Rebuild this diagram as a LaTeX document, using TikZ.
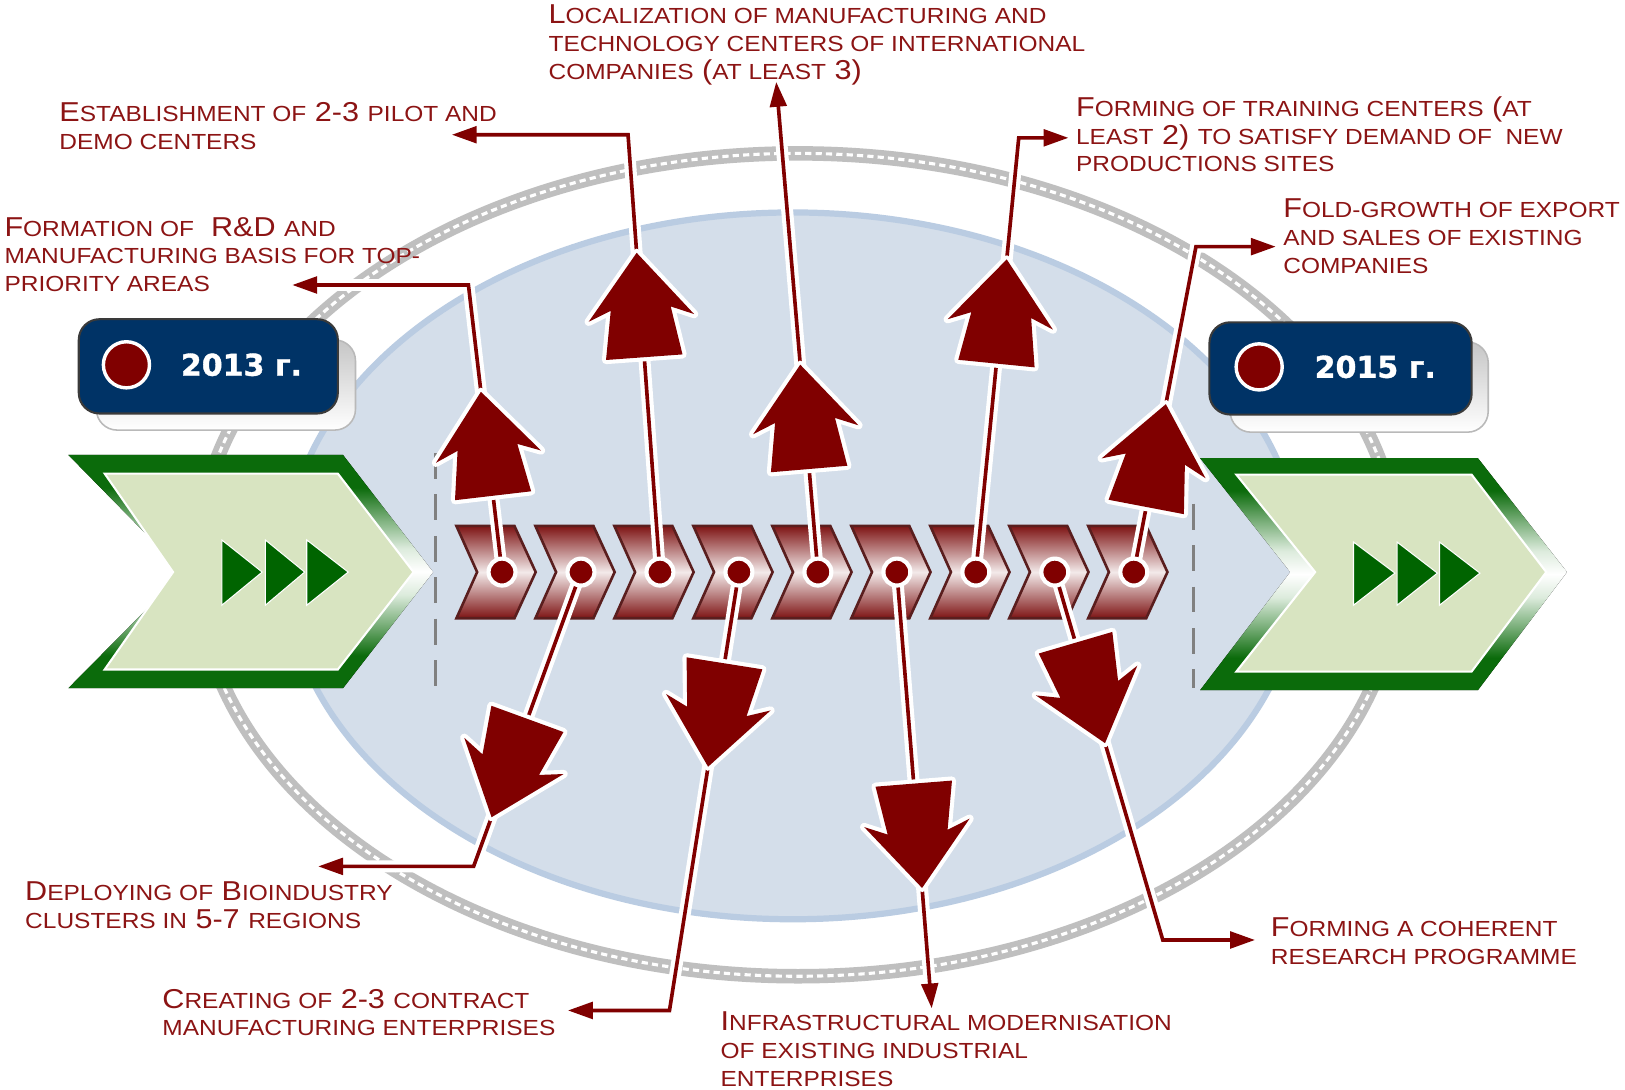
\documentclass[tikz,border=0pt]{standalone}
\usepackage{fontspec}
\newfontfamily\lblfont[FakeStretch=1.12]{Liberation Sans}
\newfontfamily\yearfont[BoldFeatures={FakeBold=1.2}]{DejaVu Sans}
\usetikzlibrary{calc,arrows.meta}
\definecolor{arrowred}{HTML}{800000}
\definecolor{textred}{HTML}{8C1414}
\definecolor{gdark}{HTML}{0B6B0B}
\definecolor{gmid}{HTML}{7FB27F}
\definecolor{glight}{HTML}{DCEBDC}
\definecolor{ginner}{HTML}{D8E4C1}
\definecolor{tri}{HTML}{006400}
\definecolor{navy}{HTML}{003366}
\definecolor{ringgray}{HTML}{BFBFBF}
\definecolor{bluefill}{HTML}{D4DEEA}
\definecolor{blueedge}{HTML}{BACCE2}
\definecolor{chevdark}{HTML}{7E1414}
\definecolor{chevlight}{HTML}{F3EAEA}
\definecolor{chevedge}{HTML}{5A1E1E}
\definecolor{dashgray}{HTML}{808080}
\pgfdeclareverticalshading{greenband}{100bp}{color(0bp)=(gdark); color(25bp)=(gdark); color(32bp)=(gdark); color(39bp)=(gmid); color(45bp)=(glight); color(50bp)=(white); color(55bp)=(glight); color(61bp)=(gmid); color(68bp)=(gdark); color(75bp)=(gdark); color(100bp)=(gdark)}
\pgfdeclarelayer{front}
\pgfsetlayers{main,front}
\newcommand\smc[1]{{\fontsize{12pt}{15.2pt}\selectfont #1}}
\newcommand\bigarrow[2]{\path let \p1=($(#2)-(#1)$), \n1={atan2(\y1,\x1)} in (#2) pic[rotate=\n1] {bigarrow};}
\tikzset{
  lbl/.style={anchor=base west, inner sep=0, align=left, text=textred,
    font=\lblfont\fontsize{15pt}{15.2pt}\selectfont},
  yearbox/.style={fill=navy, draw={rgb,255:red,58;green,58;blue,58}, line width=0.04cm, rounded corners=0.4cm},
  shadowbox/.style={top color=gray!45, bottom color=white, draw=gray!55, line width=0.03cm, rounded corners=0.4cm},
  yeardot/.style={circle, fill=arrowred, draw=white, line width=0.066cm, minimum size=0.89cm, inner sep=0},
  yeartext/.style={inner sep=0, text=white, font=\yearfont\bfseries\fontsize{16.5pt}{18pt}\selectfont},
  dot/.style={circle, fill=arrowred, draw=white, line width=0.08cm, minimum size=0.52cm, inner sep=0},
  smallchev/.style={top color=chevdark, bottom color=chevdark, middle color=chevlight, draw=chevedge, line width=0.05cm, line join=miter},
  halo/.style={draw=white, line width=0.23cm},
  conn/.style={draw=arrowred, line width=0.07cm, -{Triangle[length=0.48cm, width=0.32cm]}},
  tri/.style={fill=tri, draw=white, line width=0.02cm},
  bigarrowstyle/.style={fill=arrowred, preaction={draw=white, line width=0.16cm, line join=round}},
  bigarrow/.pic={\path[bigarrowstyle] (0,0) -- (-63,51) -- (-54,29) -- (-101,37) -- (-101,-37) -- (-54,-29) -- (-63,-51) -- cycle;}
}
\begin{document}
\begin{tikzpicture}[x=0.02cm, y=-0.02cm]
\fill[white] (0,0) rectangle (1568,1051);
\useasboundingbox (0,0) rectangle (1568,1051);
% gray ring
\draw[ringgray, line width=0.28cm] (770,545) ellipse [x radius=580, y radius=397];
\draw[white, line width=0.06cm, dash pattern=on 0.12cm off 0.08cm] (770,545) ellipse [x radius=580, y radius=397];
% blue ellipse
\draw[blueedge, fill=bluefill, line width=0.12cm] (765,546) ellipse [x radius=490, y radius=341];
% dashed limits
\draw[dashgray, line width=0.06cm, dash pattern=on 0.5cm off 0.3cm] (420,437) -- (420,666);
\draw[dashgray, line width=0.06cm, dash pattern=on 0.5cm off 0.3cm] (1152,486) -- (1152,664);
% year boxes
\draw[shadowbox] (93,328) rectangle (343,415);
\draw[yearbox] (76,308) rectangle (326,399);
\node[yeardot] (yd13) at (122,352) {};
\node[yeartext] (yt13) at (233,352) {2013 г.};
\draw[shadowbox] (1187,330) rectangle (1436,417);
\draw[yearbox] (1167,311) rectangle (1420,400);
\node[yeardot] (yd15) at (1215,354) {};
\node[yeartext] (yt15) at (1327,354) {2015 г.};
% green chevrons
\fill[shading=greenband] (66,439) -- (331,439) -- (418,552) -- (331,664) -- (66,664) -- (177,552) -- cycle;
\draw[white, line width=0.04cm, fill=ginner] (101,457) -- (326,457) -- (399,552) -- (326,646) -- (101,646) -- (167,552) -- cycle;
\draw[tri] (214,521) -- (253,552) -- (214,584) -- cycle;
\draw[tri] (256,521) -- (294,552) -- (256,584) -- cycle;
\draw[tri] (296,521) -- (336,552) -- (296,584) -- cycle;
\fill[shading=greenband] (1158,442) -- (1426,442) -- (1512,552) -- (1426,666) -- (1158,666) -- (1245,552) -- cycle;
\draw[white, line width=0.04cm, fill=ginner] (1193,458) -- (1420,458) -- (1492,552) -- (1420,648) -- (1193,648) -- (1269,552) -- cycle;
\draw[tri] (1306,523) -- (1346,553) -- (1306,584) -- cycle;
\draw[tri] (1348,523) -- (1387,553) -- (1348,584) -- cycle;
\draw[tri] (1389,523) -- (1428,553) -- (1389,584) -- cycle;
% small chevrons
\foreach \i in {0,...,8}{
  \draw[smallchev] ({440.4+76.2*\i},507.5) -- ++(56,0) -- ++(20.5,44.5) -- ++(-20.5,44.6) -- ++(-56,0) -- ++(20,-44.6) -- cycle;
}
% dots (front layer)
\begin{pgfonlayer}{front}
\foreach \i in {1,...,9}{
  \node[dot] (d\i) at ({440.4+44+76.2*(\i-1)},552) {};
}
\end{pgfonlayer}
% corner and end coordinates
\coordinate (cA) at (452,275);  \coordinate (eA) at (282,275);
\coordinate (cB) at (606,130);  \coordinate (eB) at (436,130);
\coordinate (eC) at (749,79);
\coordinate (cD) at (983,133);  \coordinate (eD) at (1031,133);
\coordinate (cE) at (1154,238); \coordinate (eE) at (1231,238);
\coordinate (cF) at (457,836);  \coordinate (eF) at (307,836);
\coordinate (cG) at (646,975);  \coordinate (eG) at (548,975);
\coordinate (eH) at (899,973);
\coordinate (cI) at (1122,907); \coordinate (eI) at (1211,907);
% connectors
\draw[halo] (d1.center) -- (cA) -- (eA);  \draw[conn] (d1.center) -- (cA) -- (eA);
\draw[halo] (d3.center) -- (cB) -- (eB);  \draw[conn] (d3.center) -- (cB) -- (eB);
\draw[halo] (d5.center) -- (eC);          \draw[conn] (d5.center) -- (eC);
\draw[halo] (d7.center) -- (cD) -- (eD);  \draw[conn] (d7.center) -- (cD) -- (eD);
\draw[halo] (d9.center) -- (cE) -- (eE);  \draw[conn] (d9.center) -- (cE) -- (eE);
\draw[halo] (d2.center) -- (cF) -- (eF);  \draw[conn] (d2.center) -- (cF) -- (eF);
\draw[halo] (d4.center) -- (cG) -- (eG);  \draw[conn] (d4.center) -- (cG) -- (eG);
\draw[halo] (d6.center) -- (eH);          \draw[conn] (d6.center) -- (eH);
\draw[halo] (d8.center) -- (cI) -- (eI);  \draw[conn] (d8.center) -- (cI) -- (eI);
% big arrowheads
\coordinate (tA) at ($(d1.center)!0.628!(cA)$);
\coordinate (tB) at ($(d3.center)!0.73!(cB)$);
\coordinate (tC) at ($(d5.center)!0.423!(eC)$);
\coordinate (tD) at ($(d7.center)!0.72!(cD)$);
\coordinate (tE) at ($(d9.center)!0.516!(cE)$);
\coordinate (tF) at ($(d2.center)!0.833!(cF)$);
\coordinate (tG) at ($(d4.center)!0.444!(cG)$);
\coordinate (tH) at ($(d6.center)!0.724!(eH)$);
\coordinate (tI) at ($(d8.center)!0.465!(cI)$);
\bigarrow{d1.center}{tA}
\bigarrow{d3.center}{tB}
\bigarrow{d5.center}{tC}
\bigarrow{d7.center}{tD}
\bigarrow{d9.center}{tE}
\bigarrow{d2.center}{tF}
\bigarrow{d4.center}{tG}
\bigarrow{d6.center}{tH}
\bigarrow{d8.center}{tI}
% labels (anchored at the baseline of their last line)
\node[lbl] (lA) at (57,144.1) {E\smc{STABLISHMENT OF} 2-3 \smc{PILOT AND}\\\smc{DEMO CENTERS}};
\node[lbl] (lB) at (4,281.4) {F\smc{ORMATION OF}\ \ R\&D \smc{AND}\\\smc{MANUFACTURING BASIS FOR TOP-}\\\smc{PRIORITY AREAS}};
\node[lbl] (lC) at (529,76.5) {L\smc{OCALIZATION OF MANUFACTURING AND}\\\smc{TECHNOLOGY CENTERS OF INTERNATIONAL}\\\smc{COMPANIES} (\smc{AT LEAST} 3)};
\node[lbl] (lD) at (1038,165.7) {F\smc{ORMING OF TRAINING CENTERS} (\smc{AT}\\\smc{LEAST} 2) \smc{TO SATISFY DEMAND OF\ \ NEW}\\\smc{PRODUCTIONS SITES}};
\node[lbl] (lE) at (1238,263.7) {F\smc{OLD-GROWTH OF EXPORT}\\\smc{AND SALES OF EXISTING}\\\smc{COMPANIES}};
\node[lbl] (lF) at (24,895.7) {D\smc{EPLOYING OF} B\smc{IOINDUSTRY}\\\smc{CLUSTERS IN} 5-7 \smc{REGIONS}};
\node[lbl] (lG) at (156.4,999.6) {C\smc{REATING OF} 2-3 \smc{CONTRACT}\\\smc{MANUFACTURING ENTERPRISES}};
\node[lbl] (lH) at (695,1047.9) {I\smc{NFRASTRUCTURAL MODERNISATION}\\\smc{OF EXISTING INDUSTRIAL}\\\smc{ENTERPRISES}};
\node[lbl] (lI) at (1226,930.5) {F\smc{ORMING A COHERENT}\\\smc{RESEARCH PROGRAMME}};
\end{tikzpicture}
\end{document}
